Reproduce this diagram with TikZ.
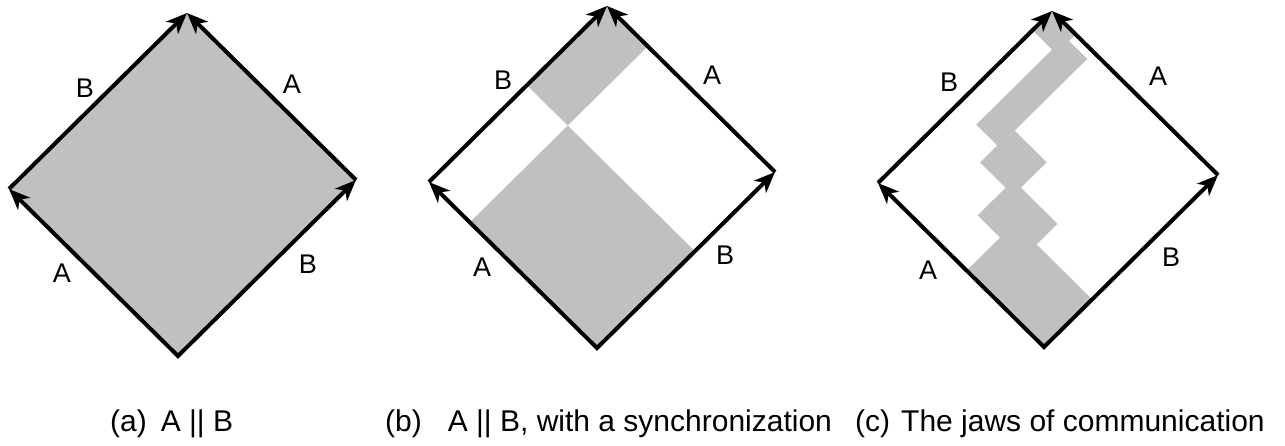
\documentclass[tikz,border=0pt]{standalone}
\usepackage{fontspec}
\setmainfont{Liberation Sans}
\usetikzlibrary{arrows.meta}
\definecolor{shadegray}{HTML}{C0C0C0}
\begin{document}
\begin{tikzpicture}[x=1pt,y=-1pt,
  panel/.style n args={3}{shift={#1},x={#2},y={#3}},
  region/.style={fill=shadegray,draw=none},
  edge/.style={line width=4pt,line join=miter,
    arrows={-{Stealth[length=21pt,width=17pt,inset=6pt]}}},
  bothends/.style={line width=4pt,line join=miter,
    arrows={{Stealth[length=21pt,width=17pt,inset=6pt]}-{Stealth[length=21pt,width=17pt,inset=6pt]}}},
  lbl/.style={font=\fontsize{27}{31}\selectfont,inner sep=0pt},
  captext/.style={font=\fontsize{30}{34}\selectfont,inner sep=0pt,anchor=base west}]
\useasboundingbox (0,0) rectangle (1285,445);

% ---------- panel (a): A || B ----------
\begin{scope}[panel={(178,356)}{(178pt,176pt)}{(-169pt,167pt)}]
  \coordinate (a-bot) at (0,0);
  \coordinate (a-rgt) at (1,0);
  \coordinate (a-lft) at (0,1);
  \coordinate (a-top) at (1,1);
  \fill[region] (a-bot) -- (a-rgt) -- (a-top) -- (a-lft) -- cycle;
  \draw[bothends] (a-lft) -- (a-bot) -- (a-rgt);
  \draw[edge] (a-lft) -- (a-top);
  \draw[edge] (a-rgt) -- (a-top);
\end{scope}
\node[lbl] (a-lblB1) at (85,88) {B};
\node[lbl] (a-lblA1) at (292,84) {A};
\node[lbl] (a-lblA2) at (62,273) {A};
\node[lbl] (a-lblB2) at (308,264) {B};

% ---------- panel (b): with a synchronization ----------
\begin{scope}[panel={(597,348)}{(178pt,176pt)}{(-168pt,166pt)}]
  \coordinate (b-bot) at (0,0);
  \coordinate (b-rgt) at (1,0);
  \coordinate (b-lft) at (0,1);
  \coordinate (b-top) at (1,1);
  \coordinate (b-sync) at (0.55,0.757);
  % past and future of the synchronization point
  \fill[region] (b-bot) -- (0.55,0) -- (b-sync) -- (0,0.757) -- cycle;
  \fill[region] (b-sync) -- (1,0.757) -- (b-top) -- (0.55,1) -- cycle;
  \draw[bothends] (b-lft) -- (b-bot) -- (b-rgt);
  \draw[edge] (b-lft) -- (b-top);
  \draw[edge] (b-rgt) -- (b-top);
\end{scope}
\node[lbl] (b-lblB1) at (503,80) {B};
\node[lbl] (b-lblA1) at (712,75) {A};
\node[lbl] (b-lblA2) at (482,267) {A};
\node[lbl] (b-lblB2) at (725,255) {B};

% ---------- panel (c): the jaws of communication ----------
\begin{scope}[panel={(1044,347)}{(174pt,172pt)}{(-166pt,164pt)}]
  \coordinate (c-bot) at (0,0);
  \coordinate (c-rgt) at (1,0);
  \coordinate (c-lft) at (0,1);
  \coordinate (c-top) at (1,1);
  \fill[region] (c-bot) -- (0,0.466) -- (0.192,0.466) -- (0.192,0.601)
    -- (0.353,0.601) -- (0.353,0.755) -- (0.452,0.755) -- (0.452,0.882)
    -- (0.888,0.882) -- (0.888,1) -- (c-top) -- (1,0.857) -- (0.962,0.857)
    -- (0.962,0.748) -- (0.545,0.748) -- (0.545,0.555) -- (0.397,0.555)
    -- (0.397,0.335) -- (0.277,0.335) -- (0.277,0) -- cycle;
  \draw[bothends] (c-lft) -- (c-bot) -- (c-rgt);
  \draw[edge] (c-lft) -- (c-top);
  \draw[edge] (c-rgt) -- (c-top);
\end{scope}
\node[lbl] (c-lblB1) at (949,82) {B};
\node[lbl] (c-lblA1) at (1158,76) {A};
\node[lbl] (c-lblA2) at (928,270) {A};
\node[lbl] (c-lblB2) at (1171,257) {B};

% ---------- captions ----------
\node[captext] (capa) at (110,431) {(a)\hspace{14pt}A || B};
\node[captext] (capb) at (385,431) {(b)\hspace{26pt}A || B, with a synchronization};
\node[captext] (capc) at (855,431) {(c)\hspace{11pt}The jaws of communication};
\end{tikzpicture}
\end{document}
